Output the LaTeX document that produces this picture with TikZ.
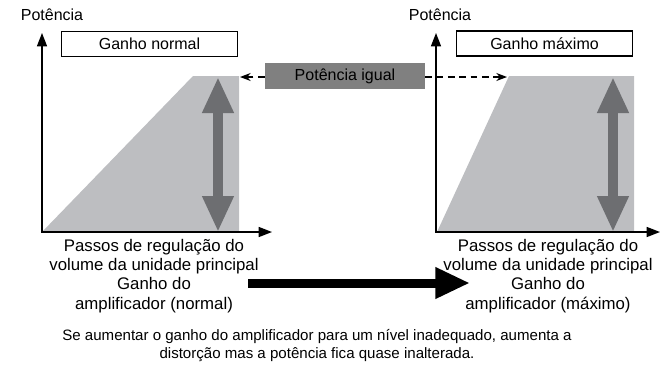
\documentclass[tikz,border=0pt]{standalone}
\usepackage{fontspec}
\setmainfont{Liberation Sans}
\usepackage{tikz}
\usetikzlibrary{arrows.meta}

\definecolor{areagray}{HTML}{BDBEC1}
\definecolor{arrowgray}{HTML}{6D6E71}
\definecolor{boxgray}{HTML}{808080}

\begin{document}
\begin{tikzpicture}[x=0.75pt,y=-0.75pt,
    axis/.style={line width=1.1pt,{Triangle[length=10pt,width=7.5pt]}-{Triangle[length=10pt,width=7.5pt]}},
    area/.style={fill=areagray},
    level/.style={arrowgray,line width=7.5pt,{Triangle[length=27pt,width=22pt]}-{Triangle[length=27pt,width=22pt]}},
    gainbox/.style={draw,line width=1.2pt,minimum width=132pt,minimum height=19pt,inner sep=0pt},
    txt/.style={font=\fontsize{12}{14.25}\selectfont,align=center},
    steps/.style={font=\fontsize{12.6}{14.4}\selectfont,align=center},
    equal/.style={-{Stealth[length=8pt,width=6pt]},line width=0.9pt,dash pattern=on 5pt off 3.5pt}]
  \useasboundingbox (0,0) rectangle (660,365);

  % left panel: normal gain
  \fill[area] (42,232) -- (193,76) -- (239,76) -- (239,232) -- cycle;
  \coordinate (oL) at (42,232);
  \coordinate (yL) at (42,33);
  \coordinate (xL) at (272,232);
  \draw[axis] (yL) -- (oL) -- (xL);
  \draw (52,15) node[txt] (pL) {Potência};
  \draw (149.5,44) node[gainbox,txt] (gN) {Ganho normal};
  \coordinate (tL) at (218,77);
  \coordinate (bL) at (218,232);
  \draw[level] (tL) -- (bL);
  \draw (154,276) node[steps] (sL) {Passos de regulação do\\volume da unidade principal\\Ganho do\\amplificador (normal)};

  % right panel: maximum gain
  \fill[area] (437,232) -- (509,76) -- (634,76) -- (634,232) -- cycle;
  \coordinate (oR) at (436,232);
  \coordinate (yR) at (436,33);
  \coordinate (xR) at (660,232);
  \draw[axis] (yR) -- (oR) -- (xR);
  \draw (440,15) node[txt] (pR) {Potência};
  \draw (544.5,43.5) node[gainbox,txt] (gM) {Ganho máximo};
  \coordinate (tR) at (613,77);
  \coordinate (bR) at (613,232);
  \draw[level] (tR) -- (bR);
  \draw (548,276) node[steps] (sR) {Passos de regulação do\\volume da unidade principal\\Ganho do\\amplificador (máximo)};

  % same power
  \draw (345,76) node[fill=boxgray,minimum width=120pt,minimum height=19.5pt,inner sep=0pt,txt] (eq) {Potência igual};
  \coordinate (topL) at (240,77);
  \coordinate (topR) at (507,77);
  \draw[equal] (eq.west |- topL) -- (topL);
  \draw[equal] (eq.east |- topR) -- (topR);

  % gain raised
  \coordinate (gs) at (248,283);
  \coordinate (ge) at (470,283);
  \draw[line width=6.75pt,-{Triangle[length=26pt,width=22pt]}] (gs) -- (ge);

  \draw (317,346) node[font=\fontsize{11.3}{13.5}\selectfont,align=center] (note) {Se aumentar o ganho do amplificador para um nível inadequado, aumenta a\\distorção mas a potência fica quase inalterada.};
\end{tikzpicture}
\end{document}
